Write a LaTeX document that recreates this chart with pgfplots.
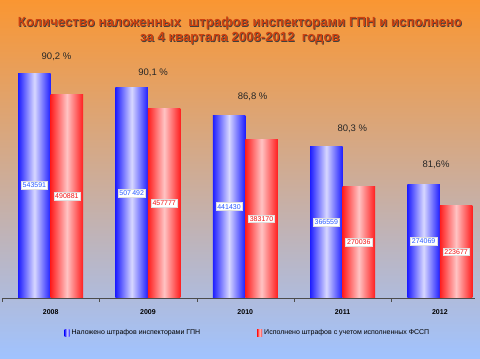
\documentclass[border=0pt]{standalone}
\usepackage{fontspec}
\setmainfont{Liberation Sans}
\usepackage{pgfplots}
\pgfplotsset{compat=1.18}
\definecolor{bgtop}{RGB}{250,150,50}
\definecolor{bgbot}{RGB}{160,195,255}
\definecolor{bdark}{RGB}{30,30,255}
\definecolor{blight}{RGB}{215,215,255}
\definecolor{rdark}{RGB}{255,30,30}
\definecolor{rlight}{RGB}{255,195,195}
\definecolor{titlec}{RGB}{205,65,15}
\definecolor{vblue}{RGB}{40,90,255}
\definecolor{vred}{RGB}{240,20,20}
\pgfplotsset{
  mylegend/.style={legend image code/.code={\path[##1] (0pt,-3.5pt) rectangle (5pt,3.5pt);}},
  bbar/.style={ybar, bar width=32.5pt, bar shift=-16.25pt, draw=none,
    left color=bdark, right color=bdark, middle color=blight, mylegend},
  rbar/.style={ybar, bar width=32.5pt, bar shift=16.25pt, draw=none,
    left color=rdark, right color=rdark, middle color=rlight, mylegend},
}
\begin{document}
\begin{tikzpicture}
\useasboundingbox (0pt,0pt) rectangle (480pt,359pt);
\shade[top color=bgtop, bottom color=bgbot] (0pt,0pt) rectangle (480pt,359pt);
\node[font=\bfseries\fontsize{13.2}{15}\selectfont, text=black!75, align=center] at (240.7pt,327.2pt) {Количество наложенных~ штрафов инспекторами ГПН и исполнено\\за 4 квартала 2008-2012~ годов};
\node[font=\bfseries\fontsize{13.2}{15}\selectfont, text=titlec, align=center] at (240pt,328pt) {Количество наложенных~ штрафов инспекторами ГПН и исполнено\\за 4 квартала 2008-2012~ годов};
\begin{axis}[
  at={(50.65pt,61pt)}, anchor=origin, scale only axis,
  width=473pt, height=248.3pt,
  xmin=-0.5, xmax=4.361, ymin=0, ymax=600000,
  axis x line*=bottom, axis y line=none,
  x axis line style={draw=gray!60!black},
  ytick=\empty, scaled y ticks=false,
  xtick={0,1,2,3,4}, xticklabels={2008,2009,2010,2011,2012},
  major tick length=0pt,
  minor xtick={-0.5,0.5,1.5,2.5,3.5},
  minor tick length=4pt, tick align=outside,
  minor x tick style={draw=gray!60!black},
  xticklabel style={font=\bfseries\fontsize{7}{8}\selectfont, yshift=-8.5pt},
  clip=false,
  legend style={at={(0.52,-0.141)}, anchor=center, draw=none, fill=none,
    font=\fontsize{7}{8}\selectfont, legend columns=2,
    /tikz/every even column/.append style={column sep=55pt}},
]
\addplot[bbar] coordinates {(0,543591)};
\addlegendentry{Наложено штрафов инспекторами ГПН}
\addplot[rbar] coordinates {(0,490881)};
\addlegendentry{Исполнено штрафов с учетом исполненных ФССП}
\addplot[bbar, forget plot] coordinates {(1,507492)};
\addplot[bbar, forget plot] coordinates {(2,441430)};
\addplot[bbar, forget plot] coordinates {(3,366559)};
\addplot[bbar, forget plot] coordinates {(4,274069)};
\addplot[rbar, forget plot] coordinates {(1,457777)};
\addplot[rbar, forget plot] coordinates {(2,383170)};
\addplot[rbar, forget plot] coordinates {(3,270036)};
\addplot[rbar, forget plot] coordinates {(4,223677)};
% value labels (blue)
\addplot[forget plot, draw=none, mark=none, nodes near coords, point meta=explicit symbolic,
  nodes near coords style={anchor=center, fill=white, draw=gray!25, inner sep=1.5pt,
    text=vblue, font=\fontsize{7}{8}\selectfont}]
  coordinates {(-0.167,271796)[543591] (0.833,253746)[507\,492] (1.833,220715)[441430]
               (2.833,183280)[366559] (3.833,137035)[274069]};
% value labels (red)
\addplot[forget plot, draw=none, mark=none, nodes near coords, point meta=explicit symbolic,
  nodes near coords style={anchor=center, fill=white, draw=gray!25, inner sep=1.5pt,
    text=vred, font=\fontsize{7}{8}\selectfont}]
  coordinates {(0.167,245441)[490881] (1.167,228889)[457777] (2.167,191585)[383170]
               (3.167,135018)[270036] (4.167,111839)[223677]};
% percentages
\addplot[forget plot, draw=none, mark=none, nodes near coords, point meta=explicit symbolic,
  nodes near coords style={anchor=center, text=black!85, font=\fontsize{9.5}{10}\selectfont}]
  coordinates {(0.06,582000)[90,2 \%] (1.053,543600)[90,1 \%] (2.076,485600)[86,8 \%]
               (3.10,408300)[80,3 \%] (3.96,321300)[81,6\%]};
\end{axis}
\end{tikzpicture}
\end{document}
